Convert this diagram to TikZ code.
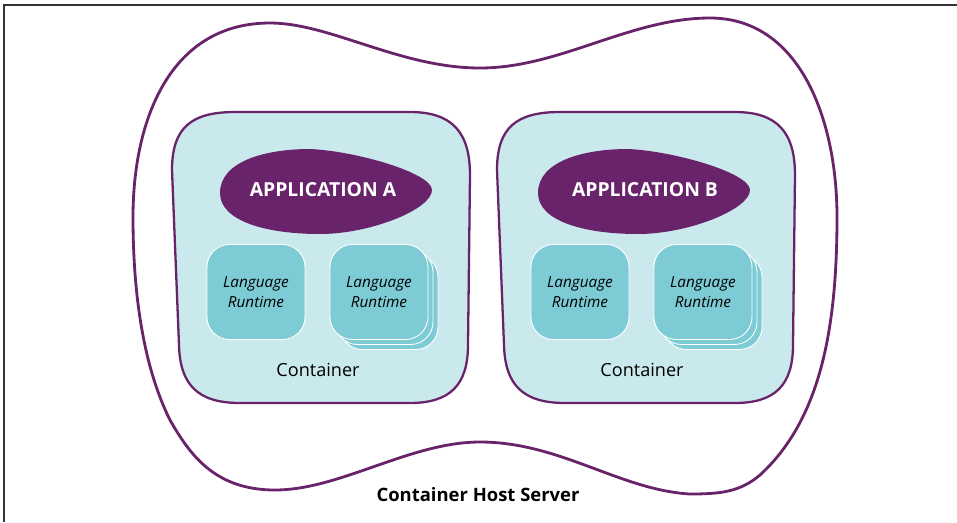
\documentclass[tikz,border=0pt]{standalone}
\usepackage{fontspec}
\setmainfont{Open Sans}
\usepackage{xcolor}
\definecolor{myp}{RGB}{104, 35, 106}
\definecolor{myc}{RGB}{202, 233, 237}
\definecolor{myt}{RGB}{125, 203, 212}
\definecolor{myg}{RGB}{51, 51, 51}
\usetikzlibrary{shadows}
\tikzset{
	hostline/.style={draw=myp, line width=1.6pt},
	contshape/.style={draw=myp, fill=myc, line width=1.3pt},
	appshape/.style={fill=myp},
	applabel/.style={font=\bfseries\fontsize{11}{13}\selectfont, text=white},
	runtime/.style={
			draw=white, fill=myt, line width=0.5pt,
			rounded corners=0.45cm,
			minimum width=1.96cm, minimum height=1.9cm,
			align=center, font=\itshape\fontsize{8.7}{11}\selectfont
		},
	runtimestack/.style={
			runtime,
			double copy shadow={shadow xshift=0.1cm, shadow yshift=-0.1cm}
		},
	contlabel/.style={font=\fontsize{10.3}{12}\selectfont}
}

\begin{document}
\begin{tikzpicture}[x=0.02cm, y=-0.02cm]
	\useasboundingbox (0,0) rectangle (957,522);
	% frame
	\draw[myg, line width=0.8pt] (4,522) -- (4,5) -- (957,5);
	% host server
	\draw[hostline] (133,217) .. controls (133,120) and (170,23) .. (270,23)
		.. controls (330,23) and (400,68) .. (480,68)
		.. controls (560,68) and (630,18) .. (710,18)
		.. controls (800,18) and (837,120) .. (837,217)
		.. controls (837,330) and (820,420) .. (760,475)
		.. controls (740,492) and (720,494) .. (690,494)
		.. controls (620,490) and (560,442) .. (480,442)
		.. controls (410,442) and (340,490) .. (275,490)
		.. controls (215,490) and (190,455) .. (170,420)
		.. controls (145,370) and (133,300) .. (133,217) -- cycle;
	% containers
	\foreach \dx in {0,325} {
		\begin{scope}[shift={(\dx,0)}]
			\draw[contshape] (172,170) .. controls (172,127) and (192,112) .. (235,112) -- (410,112)
				.. controls (452,112) and (470,132) .. (470,175) -- (468,345)
				.. controls (468,385) and (450,403) .. (410,403) -- (240,403)
				.. controls (198,403) and (180,385) .. (179,345) -- cycle;
		\end{scope}
	}
	% applications
	\coordinate (cA) at (326,191);
	\coordinate (cB) at (644,191);
	\foreach \c in {cA,cB} {
		\begin{scope}[shift={(\c)}]
			\fill[appshape] (-106,2) .. controls (-106,-30) and (-60,-42) .. (-16,-42)
				.. controls (30,-40) and (106,-18) .. (106,-1)
				.. controls (106,18) and (45,43) .. (-6,43)
				.. controls (-60,43) and (-106,30) .. (-106,2) -- cycle;
		\end{scope}
	}
	\node[applabel] (appA) at (323,190) {APPLICATION A};
	\node[applabel] (appB) at (645,190) {APPLICATION B};
	% runtimes
	\node[runtime] (rtA1) at (256,292) {Language\\Runtime};
	\node[runtimestack] (rtA2) at (379,292) {Language\\Runtime};
	\node[runtime] (rtB1) at (580,292) {Language\\Runtime};
	\node[runtimestack] (rtB2) at (703,292) {Language\\Runtime};
	% labels
	\node[contlabel] (labA) at (318,370) {Container};
	\node[contlabel] (labB) at (642,370) {Container};
	\node[contlabel, font=\bfseries\fontsize{10.5}{12}\selectfont] (host) at (478,495) {Container Host Server};
\end{tikzpicture}
\end{document}
